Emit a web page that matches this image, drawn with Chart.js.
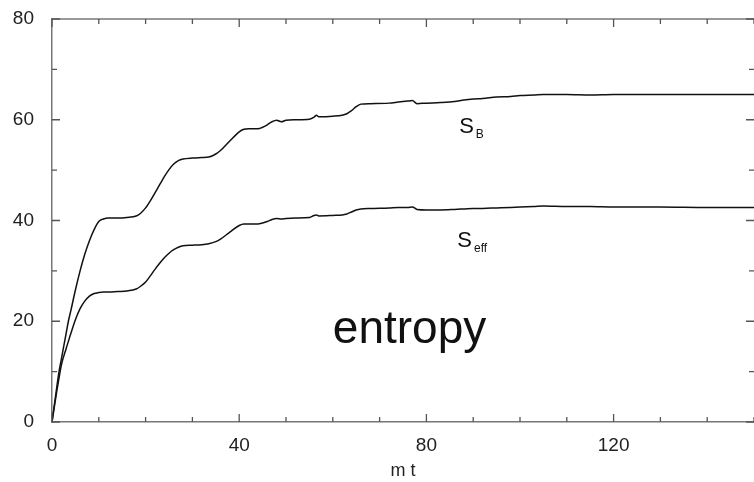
<!DOCTYPE html>
<html>
<head>
<meta charset="utf-8">
<script src="https://cdn.jsdelivr.net/npm/chart.js@4/dist/chart.umd.min.js"></script>
<style>
  html, body { margin: 0; padding: 0; background: #fff; }
  #wrap { width: 754px; height: 482px; }
</style>
</head>
<body>
<div id="wrap"><canvas id="entropy"></canvas></div>
<script>
// time axis (mt) and the two entropy curves
const mt = [0, 1, 1.5, 2, 3, 3.5, 4, 5, 6, 7, 8, 9, 10, 11, 12, 14, 16, 18, 19, 20,
  21, 22, 23, 24, 25, 26, 27, 28, 30, 32, 33.5, 35, 36, 38, 40, 41, 42, 44, 45, 46,
  47, 48, 49, 50, 52, 55, 56, 56.5, 57, 60, 62, 63, 64, 65, 66, 68, 72, 74, 76, 77,
  78, 80, 83, 86, 88, 90, 92, 95, 98, 100, 103, 105, 110, 115, 120, 130, 140, 150];
const sB = [0, 6.8, 10, 12.5, 17.5, 20, 22, 26.2, 30, 33.3, 36, 38.2, 39.8, 40.3, 40.5, 40.5, 40.6, 40.9, 41.5, 42.5,
  43.9, 45.5, 47.1, 48.7, 50.1, 51.2, 51.9, 52.2, 52.4, 52.5, 52.6, 53.2, 53.9, 55.8, 57.6, 58.1, 58.2, 58.2, 58.5, 59,
  59.6, 59.9, 59.6, 59.9, 60, 60.1, 60.5, 60.9, 60.6, 60.7, 60.9, 61.2, 61.8, 62.6, 63.1, 63.2, 63.3, 63.5, 63.7, 63.8,
  63.2, 63.3, 63.4, 63.6, 63.9, 64.1, 64.2, 64.5, 64.6, 64.8, 64.9, 65, 65, 64.9, 65, 65, 65, 65];
const sEff = [0, 6, 8.7, 11.3, 14.5, 16, 17.5, 20.3, 22.5, 24, 25, 25.5, 25.7, 25.8, 25.8, 25.9, 26, 26.4, 27, 27.8,
  29, 30.3, 31.5, 32.6, 33.5, 34.2, 34.7, 35, 35.1, 35.2, 35.4, 35.8, 36.3, 37.7, 39, 39.3, 39.3, 39.3, 39.5, 39.8,
  40.2, 40.4, 40.3, 40.4, 40.5, 40.6, 41, 41.1, 40.9, 41, 41.1, 41.3, 41.7, 42.1, 42.3, 42.4, 42.5, 42.6, 42.6, 42.7,
  42.2, 42.1, 42.1, 42.2, 42.3, 42.4, 42.4, 42.5, 42.6, 42.7, 42.8, 42.9, 42.8, 42.8, 42.7, 42.7, 42.6, 42.6];
const xTicks = [0, 40, 80, 120];
const yTicks = [0, 20, 40, 60, 80];

const FONT = "'Liberation Sans', Arial, sans-serif";

// inward ticks on all four sides, top border, text labels
const framePlugin = {
  id: "frame",
  afterDraw(chart) {
    const { ctx, chartArea: a, scales } = chart;
    const xs = scales.x, ys = scales.y;
    ctx.save();
    ctx.strokeStyle = "#777";
    ctx.lineWidth = 1.5;
    ctx.beginPath();
    ctx.moveTo(a.left, a.top);
    ctx.lineTo(a.right, a.top);
    ctx.stroke();
    ctx.lineWidth = 1.3;
    ctx.strokeStyle = "#555";
    for (let v = 0; v <= 150; v += 10) {
      const px = xs.getPixelForValue(v);
      const len = v % 40 === 0 ? 8 : 5;
      ctx.beginPath();
      ctx.moveTo(px, a.bottom); ctx.lineTo(px, a.bottom - len);
      ctx.moveTo(px, a.top); ctx.lineTo(px, a.top + len);
      ctx.stroke();
    }
    for (let v = 0; v <= 80; v += 10) {
      const py = ys.getPixelForValue(v);
      const len = v % 20 === 0 ? 8 : 5;
      ctx.beginPath();
      ctx.moveTo(a.left, py); ctx.lineTo(a.left + len, py);
      ctx.moveTo(a.right, py); ctx.lineTo(a.right - len, py);
      ctx.stroke();
    }
    ctx.fillStyle = "#111";
    ctx.textBaseline = "alphabetic";
    ctx.textAlign = "left";
    const label = (x, y, main, sub) => {
      const px = xs.getPixelForValue(x), py = ys.getPixelForValue(y);
      ctx.font = "22px " + FONT;
      ctx.fillText(main, px, py);
      const w = ctx.measureText(main).width;
      ctx.font = "12px " + FONT;
      ctx.fillText(sub, px + w + 2, py + 5);
    };
    label(87, 57.4, "S", "B");
    label(86.6, 34.8, "S", "eff");
    ctx.font = "46px " + FONT;
    ctx.fillText("entropy", xs.getPixelForValue(60), ys.getPixelForValue(15.7));
    ctx.restore();
  }
};

const line = (data) => ({
  data: mt.map((x, i) => ({ x, y: data[i] })),
  borderColor: "#111",
  borderWidth: 1.5,
  pointRadius: 0,
  fill: false,
  cubicInterpolationMode: "monotone"
});

new Chart(document.getElementById("entropy"), {
  type: "line",
  data: { datasets: [line(sB), line(sEff)] },
  options: {
    responsive: true,
    maintainAspectRatio: false,
    animation: false,
    events: [],
    layout: { padding: { top: 19, right: 0, left: 0, bottom: 0 } },
    plugins: { legend: { display: false }, tooltip: { enabled: false } },
    scales: {
      x: {
        type: "linear",
        min: 0,
        max: 150,
        grid: { display: false, drawTicks: false },
        border: { display: true, color: "#777", width: 1.5 },
        afterBuildTicks: (s) => { s.ticks = xTicks.map((v) => ({ value: v })); },
        afterFit: (s) => { s.height = 60; s.paddingLeft = 0; s.paddingRight = 0; },
        ticks: { color: "#222", padding: 12, maxRotation: 0, font: { family: FONT, size: 19 } },
        title: { display: true, text: "m t", color: "#222", padding: { top: 2, bottom: 0 }, font: { family: FONT, size: 18 } }
      },
      y: {
        min: 0,
        max: 80,
        grid: { display: false, drawTicks: false },
        border: { display: true, color: "#777", width: 1.5 },
        afterBuildTicks: (s) => { s.ticks = yTicks.map((v) => ({ value: v })); },
        afterFit: (s) => { s.width = 52; s.paddingTop = 0; s.paddingBottom = 0; },
        ticks: { color: "#222", padding: 18, font: { family: FONT, size: 19 } }
      }
    }
  },
  plugins: [framePlugin]
});
</script>
</body>
</html>
